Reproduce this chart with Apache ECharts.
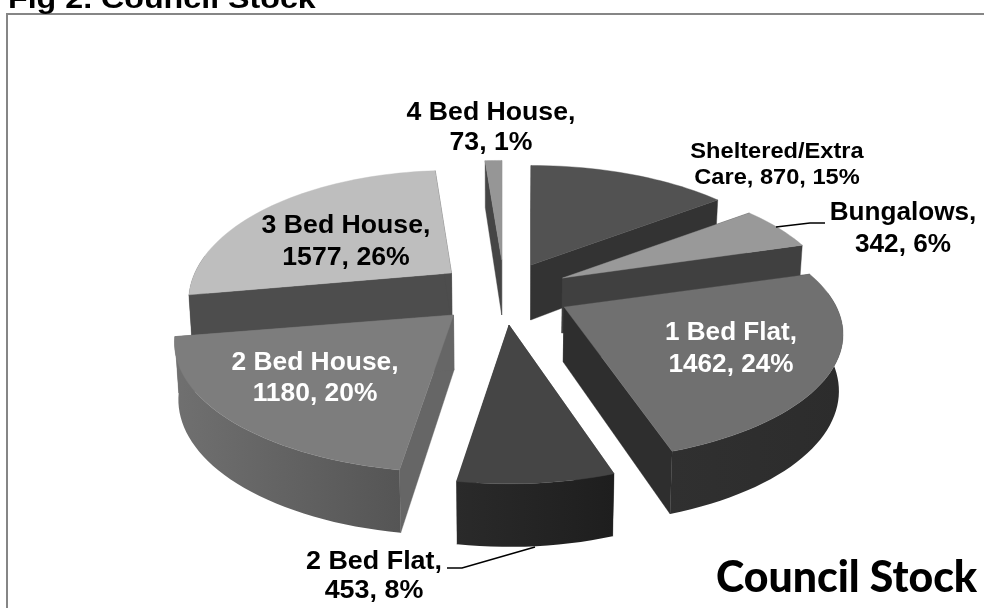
<!DOCTYPE html>
<html>
<head>
<meta charset="utf-8">
<style>html,body{margin:0;padding:0;background:#fff}#c{width:984px;height:608px}</style>
<script src="https://cdn.jsdelivr.net/npm/echarts@6/dist/echarts.min.js"></script>
</head>
<body>
<div id="c"></div>
<script>
// ---- data ----
var categories = ['Sheltered/Extra Care', 'Bungalows', '1 Bed Flat', '2 Bed Flat', '2 Bed House', '3 Bed House', '4 Bed House'];
var values = [870, 342, 1462, 453, 1180, 1577, 73];
var percents = [15, 6, 24, 8, 20, 26, 1];
var chartTitle = 'Fig 2. Council Stock';
var stampText = 'Council Stock';

// ---- styling and layout ----
var FONT = '"Liberation Sans", Arial, sans-serif';
var labelBreak = [['Sheltered/Extra', 'Care, '], ['Bungalows,', ''], ['1 Bed Flat,', ''], ['2 Bed Flat,', ''], ['2 Bed House,', ''], ['3 Bed House,', ''], ['4 Bed House,', '']];
// centre x, centre y, font size, horizontal stretch, line gap, colour
var labelPos = [
  [777, 165, 22.5, 1.05, 26, '#000'],
  [903, 229, 25.5, 1.025, 32, '#000'],
  [731, 349, 25.5, 1.025, 32, '#fff'],
  [374, 576, 25.5, 1.055, 29, '#000'],
  [315, 378, 25.5, 1.035, 31, '#fff'],
  [346, 242, 25.5, 1.045, 32, '#000'],
  [491, 128, 25.5, 1.045, 30, '#000']
];
var apex = [[531, 265], [562.5, 278], [564, 307], [509, 325], [453.5, 315], [451.5, 273], [501.7, 260]];
var rxScale = [1.015, 1.015, 1.04, 1.01, 1.04, 0.98, 1];
var ryScale = [1, 1, 1, 1.03, 1.02, 1.03, 1];
var topColor = ['#525252', '#999999', '#707070', '#454545', '#7d7d7d', '#bebebe', '#969696'];
var radialColor = ['#333333', '#404040', '#2e2e2e', '#282828', '#666666', '#4d4d4d', '#454545'];
var arcStops = [['#333333', '#333333'], ['#404040', '#404040'], ['#303030', '#2c2c2c'], ['#2a2a2a', '#1e1e1e'], ['#707070', '#555555'], ['#4d4d4d', '#4d4d4d'], ['#454545', '#454545']];
var drawRank = [1, 3, 4, 6, 5, 2, 0];
var RX = 262, RY = 121, D = 4.64, START_DEG = 0, WALL = 55, WALL_GROW = 8, VANISH_X = 500, TAPER = 0.012;

var total = values.reduce(function (a, b) { return a + b; }, 0);

function project(i, deg) {
  var ax = apex[i], t = deg * Math.PI / 180, X = Math.sin(t), Y = -Math.cos(t), s = D / (D - Y);
  return { x: ax[0] + RX * rxScale[i] * X * s, y: ax[1] + RY * ryScale[i] * Y * s, h: WALL + WALL_GROW * Y, Y: Y };
}
function lowX(x) { return x + (VANISH_X - x) * TAPER; }

function renderSlice(params, api) {
  var i = params.dataIndex, v = api.value(0), before = 0;
  for (var k = 0; k < i; k++) before += values[k];
  var a0 = START_DEG + before / total * 360, a1 = a0 + v / total * 360;
  var ax = apex[i], n = Math.max(6, Math.ceil((a1 - a0) / 2)), arc = [], j;
  for (j = 0; j <= n; j++) arc.push(project(i, a0 + (a1 - a0) * j / n));
  var rank = drawRank[i] * 10, kids = [];
  function quad(a, b, color, z) {
    kids.push({
      type: 'polygon', z2: rank + z, silent: true,
      shape: { points: [[a.x, a.y], [b.x, b.y], [lowX(b.x), b.y + b.h], [lowX(a.x), a.y + a.h]] },
      style: { fill: color, stroke: color, lineWidth: 0.4 }
    });
  }
  var apexPt = { x: ax[0], y: ax[1], h: WALL };
  quad(apexPt, arc[0], radialColor[i], 1);
  quad(apexPt, arc[n], radialColor[i], 2);
  var front = arc.filter(function (p) { return p.Y > -0.15; });
  if (front.length > 1) {
    var pts = front.map(function (p) { return [p.x, p.y]; })
      .concat(front.slice().reverse().map(function (p) { return [lowX(p.x), p.y + p.h]; }));
    var lr = front[0].x < front[front.length - 1].x;
    kids.push({
      type: 'polygon', z2: rank + 3, silent: true,
      shape: { points: pts },
      style: {
        fill: {
          type: 'linear', x: 0, y: 0, x2: 1, y2: 0,
          colorStops: [{ offset: 0, color: arcStops[i][lr ? 1 : 0] }, { offset: 1, color: arcStops[i][lr ? 0 : 1] }]
        }
      }
    });
  }
  kids.push({
    type: 'polygon', z2: rank + 4, silent: true,
    shape: { points: [[ax[0], ax[1]]].concat(arc.map(function (p) { return [p.x, p.y]; })) },
    style: { fill: topColor[i], stroke: topColor[i], lineWidth: 0.4 }
  });
  var br = labelBreak[i], p = labelPos[i];
  var line2 = (br[1] || '') + v + ', ' + percents[i] + '%';
  kids.push({
    type: 'text', z2: 100, silent: true, x: p[0], y: p[1], scaleX: p[3],
    style: {
      x: 0, y: 0, text: br[0] + '\n' + line2,
      fill: p[5], align: 'center', verticalAlign: 'middle',
      font: 'bold ' + p[2] + 'px ' + FONT, lineHeight: p[4]
    }
  });
  return { type: 'group', children: kids };
}

var chart = echarts.init(document.getElementById('c'), null, { renderer: 'canvas' });
chart.setOption({
  animation: false,
  backgroundColor: '#ffffff',
  graphic: [
    { type: 'polyline', z: 1, silent: true, shape: { points: [[7, 608], [7, 14], [984, 14]] }, style: { stroke: '#868686', lineWidth: 2, fill: null } },
    { type: 'text', z: 5, silent: true, x: 8, y: 14, scaleX: 1.15, style: { x: 0, y: 0, text: chartTitle, fill: '#000', verticalAlign: 'bottom', font: 'bold 28px ' + FONT } },
    { type: 'text', z: 5, silent: true, style: { x: 716, y: 557, text: stampText, fill: '#000', font: '900 42.8px Lato, "Noto Sans", sans-serif' } },
    { type: 'polyline', z: 20, silent: true, shape: { points: [[776, 227], [810, 223], [825, 223]] }, style: { stroke: '#000', lineWidth: 1.5, fill: null } },
    { type: 'polyline', z: 20, silent: true, shape: { points: [[447, 568], [462, 568], [535, 547]] }, style: { stroke: '#000', lineWidth: 1.5, fill: null } }
  ],
  series: [{
    type: 'custom',
    name: chartTitle,
    coordinateSystem: 'none',
    renderItem: renderSlice,
    dimensions: ['value'],
    data: values.map(function (v, i) { return { name: categories[i], value: [v] }; })
  }]
});
</script>
</body>
</html>
